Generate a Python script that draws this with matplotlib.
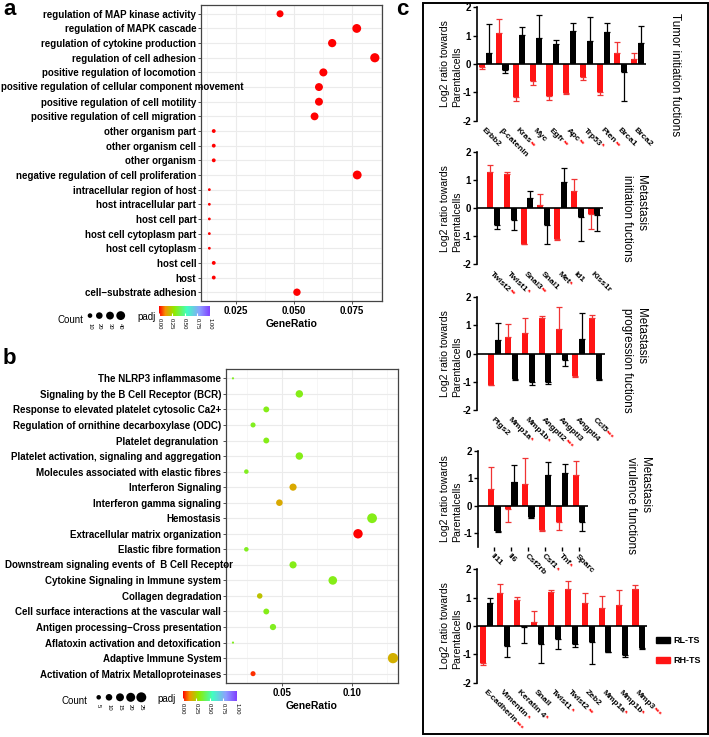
import numpy as np
import matplotlib
matplotlib.use('Agg')
import matplotlib.pyplot as plt
from matplotlib.colors import LinearSegmentedColormap, Normalize
from matplotlib.patches import Patch, Rectangle
from matplotlib.transforms import ScaledTranslation, blended_transform_factory
import matplotlib.cm as cm

plt.rcParams['font.family'] = ['Liberation Sans', 'DejaVu Sans']

##------------ panel a : GO enrichment -----------------##
a_terms = ['regulation of MAP kinase activity', 'regulation of MAPK cascade',
           'regulation of cytokine production', 'regulation of cell adhesion',
           'positive regulation of locomotion',
           'positive regulation of cellular component movement',
           'positive regulation of cell motility', 'positive regulation of cell migration',
           'other organism part', 'other organism cell', 'other organism',
           'negative regulation of cell proliferation', 'intracellular region of host',
           'host intracellular part', 'host cell part', 'host cell cytoplasm part',
           'host cell cytoplasm', 'host cell', 'host', 'cell\u2212substrate adhesion']
a_ratio = [0.0441, 0.0772, 0.0666, 0.0850, 0.0628, 0.0609, 0.0609, 0.0590, 0.0155, 0.0155,
           0.0155, 0.0774, 0.0136, 0.0136, 0.0136, 0.0136, 0.0136, 0.0155, 0.0155, 0.0514]
a_count = [23, 40, 34, 44, 32, 31, 31, 30, 8, 8, 8, 40, 7, 7, 7, 7, 7, 8, 8, 26]
a_padj = [0.0] * 20
a_count_legend = [10, 20, 30, 40]

##------------ panel b : Reactome enrichment -----------------##
b_terms = ['The NLRP3 inflammasome', 'Signaling by the B Cell Receptor (BCR)',
           'Response to elevated platelet cytosolic Ca2+',
           'Regulation of ornithine decarboxylase (ODC)', 'Platelet degranulation ',
           'Platelet activation, signaling and aggregation',
           'Molecules associated with elastic fibres', 'Interferon Signaling',
           'Interferon gamma signaling', 'Hemostasis', 'Extracellular matrix organization',
           'Elastic fibre formation', 'Downstream signaling events of  B Cell Receptor',
           'Cytokine Signaling in Immune system', 'Collagen degradation',
           'Cell surface interactions at the vascular wall',
           'Antigen processing\u2212Cross presentation',
           'Aflatoxin activation and detoxification', 'Adaptive Immune System',
           'Activation of Matrix Metalloproteinases']
b_ratio = [0.0148, 0.0624, 0.0387, 0.0292, 0.0387, 0.0624, 0.0244, 0.0579, 0.0481, 0.1146,
           0.1045, 0.0244, 0.0579, 0.0864, 0.0340, 0.0387, 0.0435, 0.0148, 0.1296, 0.0292]
b_count = [3, 13, 8, 6, 8, 13, 5, 12, 10, 24, 22, 5, 12, 18, 7, 8, 9, 3, 27, 6]
b_padj = [0.34, 0.33, 0.33, 0.34, 0.33, 0.33, 0.34, 0.17, 0.17, 0.33,
          0.0, 0.34, 0.33, 0.33, 0.22, 0.33, 0.34, 0.34, 0.18, 0.04]
b_count_legend = [5, 10, 15, 20, 25]

##------------ panel c : qPCR log2 ratios -----------------##
tumor_genes = ['Erbb2', '\u03b2-catenin', 'Kras', 'Myc', 'Egfr', 'Apc', 'Trp53', 'Pten', 'Brca1', 'Brca2']
tumor_stars = ['', '', '**', '', '**', '**', '*', '**', '', '']
tumor_rh = [-0.10, 1.10, -1.15, -0.60, -1.12, -1.03, -0.45, -0.98, 0.40, 0.18]
tumor_rh_err = [0.07, 0.50, 0.17, 0.14, 0.16, 0.02, 0.10, 0.12, 0.37, 0.22]
tumor_rl = [0.40, -0.22, 1.02, 0.93, 0.70, 1.15, 0.80, 1.13, -0.28, 0.75]
tumor_rl_err = [1.02, 0.10, 0.28, 0.80, 0.15, 0.30, 0.86, 0.30, 1.02, 0.58]

init_genes = ['Twist2', 'Twist1', 'Snai3', 'Snai1', 'Met', 'Id1', 'Kiss1r']
init_stars = ['**', '*', '**', '', '*', '', '']
init_rh = [1.28, 1.22, -1.27, 0.13, -1.12, 0.63, -0.22]
init_rh_err = [0.27, 0.06, 0.02, 0.37, 0.03, 0.42, 0.53]
init_rl = [-0.62, -0.42, 0.38, -0.62, 0.93, -0.30, -0.25]
init_rl_err = [0.13, 0.38, 0.24, 0.66, 0.52, 0.87, 0.57]

prog_genes = ['Ptgs2', 'Mmp1a', 'Mmp1b', 'Angptl2', 'Angptl3', 'Angptl4', 'Ccl5']
prog_stars = ['', '*', '*', '***', '', '', '***']
prog_rh = [-1.10, 0.60, 0.73, 1.25, 0.88, -0.80, 1.28]
prog_rh_err = [0.02, 0.45, 0.54, 0.07, 0.79, 0.03, 0.09]
prog_rl = [0.50, -0.90, -1.02, -1.02, -0.22, 0.52, -0.90]
prog_rl_err = [0.58, 0.03, 0.08, 0.05, 0.23, 0.93, 0.03]

vir_genes = ['Il11', 'Il6', 'Csf2rb', 'Csf1', 'Tnf', 'Sparc']
vir_stars = ['', '', '', '*', '*', '']
vir_rh = [0.62, -0.12, 0.78, -0.90, -0.62, 1.10]
vir_rh_err = [0.80, 0.48, 0.94, 0.02, 0.28, 0.52]
vir_rl = [-0.92, 0.85, -0.42, 1.12, 1.20, -0.60]
vir_rl_err = [0.03, 0.62, 0.03, 0.48, 0.33, 0.32]

emt_genes = ['E-cadherin', 'Vimentin', 'Keratin 4', 'Snail', 'Twist1', 'Twist2', 'Zeb2', 'Mmp1a', 'Mmp1b', 'Mmp3']
emt_stars = ['***', '*', '*', '', '*', '**', '', '*', '*', '***']
emt_rh = [-1.30, 1.15, 0.92, 0.15, 1.20, 1.30, 0.82, 0.62, 0.75, 1.32]
emt_rh_err = [0.07, 0.32, 0.10, 0.37, 0.08, 0.27, 0.33, 0.43, 0.53, 0.11]
emt_rl = [0.82, -0.72, -0.05, -0.65, -0.45, -0.65, -0.58, -0.90, -1.02, -0.78]
emt_rl_err = [0.18, 0.38, 0.55, 0.65, 0.35, 0.10, 0.77, 0.03, 0.08, 0.02]

##------------ settings -----------------##
W, H, DPI = 709, 737, 100
RED = '#FF1414'
TERM_FS = 7.0
padj_cmap = LinearSegmentedColormap.from_list(
    'padj', [(0, '#FF0000'), (0.12, '#F59000'), (0.3, '#8EEB00'), (0.55, '#40FFC0'),
             (0.8, '#8CA0FF'), (1, '#8040FF')])
norm = Normalize(0, 1)


def box(x0, y0, x1, y1):
    # pixel box (top-left origin) -> figure fraction
    return [x0 / W, 1 - y1 / H, (x1 - x0) / W, (y1 - y0) / H]


def dot_size(c, cmin, cmax, dmin, dmax):
    c = np.asarray(c, dtype=float)
    d = dmin + (dmax - dmin) * np.sqrt(np.clip((c - cmin) / (cmax - cmin), 0, 1))
    return (d * 72 / DPI) ** 2


fig = plt.figure(figsize=(W / DPI, H / DPI), dpi=DPI)
renderer = fig.canvas.get_renderer()


def text_width(s, **kw):
    tmp = fig.text(0, 0, s, **kw)
    w = tmp.get_window_extent(renderer).width
    tmp.remove()
    return w


def dot_panel(ax, terms, ratio, count, padj, srange, xlim, major, minor, labels, margin):
    n = len(terms)
    y = np.arange(n)[::-1]
    ax.scatter(ratio, y, s=dot_size(count, *srange), c=padj, cmap=padj_cmap, norm=norm,
               linewidths=0, zorder=3)
    ax.set_ylim(-0.6, n - 0.4)
    ax.set_xlim(*xlim)
    # labels that do not fit left of the axis are shifted to the figure margin
    x0_px = ax.get_position().x0 * W
    tr = blended_transform_factory(fig.transFigure, ax.transData)
    shown = []
    for yy, term in zip(y, terms):
        if text_width(term, fontsize=TERM_FS, fontweight='bold') > x0_px - 6:
            shown.append('')
            ax.text(margin / W, yy, term, transform=tr, ha='left', va='center',
                    fontsize=TERM_FS, fontweight='bold', zorder=5)
        else:
            shown.append(term)
    ax.set_yticks(y)
    ax.set_yticklabels(shown, fontsize=TERM_FS, fontweight='bold')
    ax.set_xticks(major)
    ax.set_xticklabels(labels, fontsize=7, fontweight='bold')
    ax.set_xticks(minor, minor=True)
    ax.grid(True, which='major', color='#EBEBEB', lw=0.8)
    ax.grid(True, which='minor', axis='x', color='#F3F3F3', lw=0.5)
    ax.set_axisbelow(True)
    for s in ax.spines.values():
        s.set_color('#444444')
        s.set_linewidth(0.9)
    ax.tick_params(length=2, width=0.6, color='#333333', pad=1.5)
    ax.tick_params(which='minor', length=0)
    ax.set_xlabel('GeneRatio', fontsize=7.5, fontweight='bold', labelpad=2)


def one_sided(vals, errs):
    lo = [e if v < 0 else 0 for v, e in zip(vals, errs)]
    hi = [e if v >= 0 else 0 for v, e in zip(vals, errs)]
    return [lo, hi]


def bar_panel(ax, genes, stars, rh, rh_err, rl, rl_err, xlim, ylim, yticks, bottom_ticks=False):
    x = np.arange(len(genes))
    ax.bar(x - 0.2, rh, 0.36, color=RED, zorder=2)
    ax.bar(x + 0.2, rl, 0.36, color='black', zorder=2)
    ax.errorbar(x - 0.2, rh, yerr=one_sided(rh, rh_err), fmt='none', ecolor='#F03434',
                elinewidth=0.9, capsize=2.2, capthick=0.9, zorder=3)
    ax.errorbar(x + 0.2, rl, yerr=one_sided(rl, rl_err), fmt='none', ecolor='black',
                elinewidth=0.9, capsize=2.2, capthick=0.9, zorder=3)
    ax.axhline(0, color='black', lw=1.2, zorder=4)
    ax.set_xlim(*xlim)
    ax.set_ylim(*ylim)
    ax.set_yticks(yticks)
    ax.set_yticklabels([str(t) for t in yticks], fontsize=7, fontweight='bold')
    for s in ['top', 'right', 'bottom']:
        ax.spines[s].set_visible(False)
    ax.spines['left'].set_linewidth(1.2)
    ax.tick_params(axis='y', length=3, width=1.0, pad=1)
    if bottom_ticks:
        ax.set_xticks(x)
        ax.tick_params(axis='x', bottom=True, length=3, width=1.0, labelbottom=False)
    else:
        ax.set_xticks([])
    ax.patch.set_alpha(0)
    ax.set_ylabel('Log2 ratio towards\nParentalcells', fontsize=7.6, multialignment='left')
    pos = ax.get_position()
    ax.yaxis.set_label_coords((462 / W - pos.x0) / pos.width, 0.5)
    # rotated gene labels with red significance stars
    c45 = np.cos(np.pi / 4)
    base = ax.get_xaxis_transform() + ScaledTranslation(0, -6 / DPI, fig.dpi_scale_trans)
    for xi, g, st in zip(x, genes, stars):
        ax.text(xi, 0, g, transform=base, rotation=-45, rotation_mode='anchor',
                ha='left', va='top', fontsize=6, fontweight='bold', clip_on=False)
        if st:
            wpx = text_width(g, fontsize=6, fontweight='bold')
            off = ScaledTranslation(wpx * c45 / DPI, -wpx * c45 / DPI, fig.dpi_scale_trans)
            ax.text(xi, 0, st, transform=base + off, rotation=-45, rotation_mode='anchor',
                    ha='left', va='top', fontsize=6, fontweight='bold', color=RED, clip_on=False)


##------------ panels a & b -----------------##
ax_a = fig.add_axes(box(201, 5, 382, 301))
dot_panel(ax_a, a_terms, a_ratio, a_count, a_padj, (7, 44, 2.8, 9.2), (0.0100, 0.0881),
          [0.025, 0.050, 0.075], [0.0125, 0.0375, 0.0625, 0.0875],
          ['0.025', '0.050', '0.075'], 1)

ax_b = fig.add_axes(box(226, 369, 398, 683))
dot_panel(ax_b, b_terms, b_ratio, b_count, b_padj, (3, 27, 2.2, 10.3), (0.0098, 0.1332),
          [0.05, 0.10], [0.025, 0.075, 0.125], ['0.05', '0.10'], 5)

##------------ panel c -----------------##
ax_c1 = fig.add_axes(box(476.7, 7.3, 646, 120.7))
bar_panel(ax_c1, tumor_genes, tumor_stars, tumor_rh, tumor_rh_err, tumor_rl, tumor_rl_err,
          (-0.5, 9.5), (-2, 2), [-2, -1, 0, 1, 2])
ax_c2 = fig.add_axes(box(476.7, 152.3, 603.3, 264))
bar_panel(ax_c2, init_genes, init_stars, init_rh, init_rh_err, init_rl, init_rl_err,
          (-1.0, 6.55), (-2, 2), [-2, -1, 0, 1, 2])
ax_c3 = fig.add_axes(box(476.7, 297.3, 605, 410))
bar_panel(ax_c3, prog_genes, prog_stars, prog_rh, prog_rh_err, prog_rl, prog_rl_err,
          (-1.05, 6.55), (-2, 2), [-2, -1, 0, 1, 2])
ax_c4 = fig.add_axes(box(478, 450.7, 588.3, 546.6))
bar_panel(ax_c4, vir_genes, vir_stars, vir_rh, vir_rh_err, vir_rl, vir_rl_err,
          (-0.95, 5.55), (-1.5, 2), [-1, 0, 1, 2], bottom_ticks=True)
ax_c5 = fig.add_axes(box(476.7, 569.3, 647.3, 682.7))
bar_panel(ax_c5, emt_genes, emt_stars, emt_rh, emt_rh_err, emt_rl, emt_rl_err,
          (-0.6, 9.5), (-2, 2), [-2, -1, 0, 1, 2])

fig.legend(handles=[Patch(color='black'), Patch(color=RED)], labels=['RL-TS', 'RH-TS'],
           loc='upper left', bbox_to_anchor=(656 / W, 1 - 636 / H), frameon=False,
           prop={'size': 6.5, 'weight': 'bold'}, handlelength=1.5, handleheight=0.7,
           handletextpad=0.4, labelspacing=1.2, borderpad=0, borderaxespad=0)

##------------ overlay: legends, titles, panel letters -----------------##
ov = fig.add_axes([0, 0, 1, 1])
ov.set_xlim(0, W)
ov.set_ylim(H, 0)
ov.axis('off')

for letter, (lx, ly) in zip('abc', [(3, 15), (3, 364), (396, 15)]):
    ov.text(lx, ly, letter, fontsize=16, fontweight='bold', ha='left', va='baseline')

# size + colour legends under a and b
for vals, srange, (cx, cy), xs, dy, (px, py), cb in [
        (a_count_legend, (7, 44, 2.8, 9.2), (57, 323), [90, 99.3, 110, 120.7], 315.6,
         (137, 320), (159, 306, 210, 316)),
        (b_count_legend, (3, 27, 2.2, 10.3), (62, 704), [98.7, 109, 120, 130.7, 141.3], 697.3,
         (157, 702), (182.7, 691, 236.7, 701))]:
    ov.text(cx, cy, 'Count', fontsize=7, ha='left', va='baseline')
    ov.scatter(xs, [dy] * len(xs), s=dot_size(vals, *srange), color='black', linewidths=0,
               clip_on=False)
    for xx, v in zip(xs, vals):
        ov.text(xx, dy + 7, str(v), fontsize=4.2, rotation=-90, ha='center', va='top')
    ov.text(px, py, 'padj', fontsize=7, ha='left', va='baseline')
    cax = fig.add_axes(box(*cb))
    cbar = fig.colorbar(cm.ScalarMappable(norm=norm, cmap=padj_cmap), cax=cax,
                        orientation='horizontal', ticks=[0, 0.25, 0.5, 0.75, 1.0])
    cbar.outline.set_visible(False)
    cbar.ax.set_xticklabels(['0.00', '0.25', '0.50', '0.75', '1.00'], rotation=-90,
                            fontsize=4.2)
    cbar.ax.tick_params(length=2.5, color='white', direction='in', pad=1.5)

# panel c frame and section titles
ov.add_patch(Rectangle((423, 3), 285, 731, fill=False, lw=1.4, ec='black'))
ov.text(675, 13, 'Tumor initiation fuctions', fontsize=8.4, rotation=-90, ha='center', va='top')
ov.text(634, 175, 'Metastasis\ninitiation fuctions', fontsize=8.4, rotation=-90,
        ha='center', va='top', multialignment='left', linespacing=1.2)
ov.text(634, 308, 'Metastasis\nprogression fuctions', fontsize=8.4, rotation=-90,
        ha='center', va='top', multialignment='left', linespacing=1.2)
ov.text(638, 456.7, 'Metastasis\nvirulence functions', fontsize=8.4, rotation=-90,
        ha='center', va='top', multialignment='left', linespacing=1.2)

fig.savefig('out.png', dpi=DPI)
